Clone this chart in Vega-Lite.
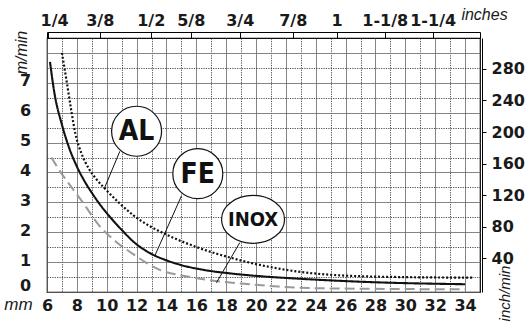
{
  "$schema": "https://vega.github.io/schema/vega-lite/v6.json",
  "autosize": {"type": "none"},
  "width": 433,
  "height": 254,
  "padding": {"left": 47, "top": 38, "right": 49, "bottom": 31},
  "background": "white",
  "config": {"view": {"stroke": "#000", "strokeWidth": 1.2}},
  "datasets": {
    "curves": [
      {"metal": "AL", "mm": 7.0, "v": 8.0}, {"metal": "AL", "mm": 7.3, "v": 7.1}, {"metal": "AL", "mm": 7.6, "v": 6.15}, {"metal": "AL", "mm": 7.9, "v": 5.3}, {"metal": "AL", "mm": 8.3, "v": 4.65}, {"metal": "AL", "mm": 8.8, "v": 4.13}, {"metal": "AL", "mm": 9.3, "v": 3.78}, {"metal": "AL", "mm": 9.8, "v": 3.5}, {"metal": "AL", "mm": 10.9, "v": 2.95}, {"metal": "AL", "mm": 11.8, "v": 2.56}, {"metal": "AL", "mm": 12.9, "v": 2.2}, {"metal": "AL", "mm": 14.0, "v": 1.92}, {"metal": "AL", "mm": 16.2, "v": 1.47}, {"metal": "AL", "mm": 18.5, "v": 1.12}, {"metal": "AL", "mm": 19.6, "v": 0.98}, {"metal": "AL", "mm": 21.9, "v": 0.75}, {"metal": "AL", "mm": 23.0, "v": 0.67}, {"metal": "AL", "mm": 25.2, "v": 0.57}, {"metal": "AL", "mm": 29.6, "v": 0.5}, {"metal": "AL", "mm": 34.6, "v": 0.48},
      {"metal": "FE", "mm": 6.2, "v": 7.7}, {"metal": "FE", "mm": 6.5, "v": 6.65}, {"metal": "FE", "mm": 7.0, "v": 5.6}, {"metal": "FE", "mm": 7.5, "v": 4.8}, {"metal": "FE", "mm": 8.0, "v": 4.2}, {"metal": "FE", "mm": 8.5, "v": 3.72}, {"metal": "FE", "mm": 9.0, "v": 3.32}, {"metal": "FE", "mm": 9.5, "v": 2.96}, {"metal": "FE", "mm": 10.0, "v": 2.64}, {"metal": "FE", "mm": 10.5, "v": 2.35}, {"metal": "FE", "mm": 11.0, "v": 2.08}, {"metal": "FE", "mm": 11.8, "v": 1.68}, {"metal": "FE", "mm": 12.9, "v": 1.3}, {"metal": "FE", "mm": 14.0, "v": 1.06}, {"metal": "FE", "mm": 15.0, "v": 0.9}, {"metal": "FE", "mm": 16.5, "v": 0.74}, {"metal": "FE", "mm": 18.5, "v": 0.61}, {"metal": "FE", "mm": 20.5, "v": 0.52}, {"metal": "FE", "mm": 22.7, "v": 0.45}, {"metal": "FE", "mm": 27.2, "v": 0.34}, {"metal": "FE", "mm": 34.0, "v": 0.26},
      {"metal": "INOX", "mm": 6.3, "v": 4.5}, {"metal": "INOX", "mm": 6.7, "v": 4.17}, {"metal": "INOX", "mm": 7.5, "v": 3.6}, {"metal": "INOX", "mm": 8.4, "v": 3.0}, {"metal": "INOX", "mm": 9.5, "v": 2.22}, {"metal": "INOX", "mm": 10.0, "v": 1.96}, {"metal": "INOX", "mm": 10.7, "v": 1.65}, {"metal": "INOX", "mm": 11.8, "v": 1.26}, {"metal": "INOX", "mm": 12.6, "v": 0.99}, {"metal": "INOX", "mm": 13.55, "v": 0.74}, {"metal": "INOX", "mm": 15.3, "v": 0.53}, {"metal": "INOX", "mm": 17.3, "v": 0.37}, {"metal": "INOX", "mm": 19.6, "v": 0.26}, {"metal": "INOX", "mm": 21.5, "v": 0.18}, {"metal": "INOX", "mm": 25.0, "v": 0.12}, {"metal": "INOX", "mm": 34.0, "v": 0.09}
    ],
    "labels": [
      {"name": "AL", "mm": 12.0, "v": 5.38},
      {"name": "FE", "mm": 16.1, "v": 3.96},
      {"name": "INOX", "mm": 19.8, "v": 2.43}
    ],
    "leaders": [
      {"name": "AL", "mm": 10.88, "v": 4.71, "mm2": 9.86, "v2": 3.49},
      {"name": "FE", "mm": 15.0, "v": 3.21, "mm2": 13.21, "v2": 1.2},
      {"name": "INOX", "mm": 18.91, "v": 1.65, "mm2": 17.35, "v2": 0.31}
    ]
  },
  "resolve": {"axis": {"x": "independent", "y": "independent"}},
  "layer": [
    {
      "data": {"name": "curves"},
      "mark": {"type": "point", "opacity": 0},
      "encoding": {
        "x": {
          "field": "mm", "type": "quantitative",
          "scale": {"domain": [6, 35], "nice": false, "zero": false},
          "axis": {
            "orient": "bottom",
            "values": [6,7,8,9,10,11,12,13,14,15,16,17,18,19,20,21,22,23,24,25,26,27,28,29,30,31,32,33,34,35],
            "grid": true,
            "gridColor": {"condition": {"test": "datum.value % 2 == 1", "value": "#222"}, "value": "#666"},
            "gridDash": {"condition": {"test": "datum.value % 2 == 1", "value": [1.2, 1.2]}, "value": []},
            "gridWidth": 0.8,
            "ticks": false, "tickSize": 0, "domain": false,
            "labelExpr": "datum.value % 2 == 0 && datum.value <= 34 ? datum.value : ''",
            "labelFont": "DejaVu Sans", "labelFontWeight": "bold", "labelFontSize": 16, "labelColor": "#1a1a1a",
            "labelPadding": 5, "labelFlush": false, "labelOverlap": false, "labelBound": false,
            "title": "mm", "titleFont": "Liberation Sans", "titleFontStyle": "italic", "titleFontWeight": "normal", "titleFontSize": 17, "titleColor": "#1a1a1a",
            "titleX": -29, "titleY": 12.5, "titleAlign": "center", "titleBaseline": "middle", "titleAngle": 0
          }
        },
        "y": {
          "field": "v", "type": "quantitative",
          "scale": {"domain": [0, 8.5], "nice": false, "zero": false},
          "axis": {
            "orient": "left",
            "values": [0,0.5,1,1.5,2,2.5,3,3.5,4,4.5,5,5.5,6,6.5,7,7.5,8,8.5],
            "grid": true,
            "gridColor": {"condition": {"test": "datum.value % 1 != 0", "value": "#222"}, "value": "#666"},
            "gridDash": {"condition": {"test": "datum.value % 1 != 0", "value": [1.2, 1.2]}, "value": []},
            "gridWidth": 0.8,
            "ticks": false, "tickSize": 0, "domain": false,
            "labelExpr": "datum.value % 1 == 0 && datum.value <= 7 ? datum.value : ''",
            "labelFont": "DejaVu Sans", "labelFontWeight": "bold", "labelFontSize": 16, "labelColor": "#1a1a1a",
            "labelAlign": "center", "labelBaseline": "middle", "labelPadding": 22,
            "labelOffset": {"condition": {"test": "datum.value == 0", "value": -6.5}, "value": -2},
            "labelFlush": false, "labelOverlap": false, "labelBound": false,
            "title": "m/min", "titleFont": "Liberation Sans", "titleFontStyle": "italic", "titleFontWeight": "normal", "titleFontSize": 16, "titleColor": "#1a1a1a",
            "titleX": -26, "titleY": 14, "titleAlign": "center", "titleBaseline": "middle", "titleAngle": 270
          }
        }
      }
    },
    {
      "data": {"name": "curves"},
      "mark": {"type": "point", "opacity": 0},
      "encoding": {
        "x": {
          "field": "mm", "type": "quantitative",
          "axis": {
            "orient": "top", "offset": 6,
            "values": [6, 6.07, 9.53, 12.95, 15.63, 18.91, 22.46, 25.4, 28.62, 31.83, 35],
            "grid": false, "domain": true, "domainColor": "#000", "domainWidth": 1,
            "ticks": true, "tickSize": -6, "tickColor": "#000", "tickWidth": 1,
            "labelExpr": "datum.value < 6.05 ? '' : datum.value < 7 ? '1/4' : datum.value < 10 ? '3/8' : datum.value < 13 ? '1/2' : datum.value < 16 ? '5/8' : datum.value < 19 ? '3/4' : datum.value < 23 ? '7/8' : datum.value < 26 ? '1' : datum.value < 29 ? '1-1/8' : datum.value < 32 ? '1-1/4' : ''",
            "labelOffset": {"condition": {"test": "datum.value < 7", "value": 6}, "value": 0},
            "labelFont": "DejaVu Sans", "labelFontWeight": "bold", "labelFontSize": 16, "labelColor": "#1a1a1a",
            "labelBaseline": "alphabetic", "labelPadding": 13, "labelFlush": false, "labelOverlap": false, "labelBound": false,
            "title": "inches", "titleFont": "Liberation Sans", "titleFontStyle": "italic", "titleFontWeight": "normal", "titleFontSize": 16, "titleColor": "#1a1a1a",
            "titleX": 437, "titleY": -13, "titleAlign": "center", "titleBaseline": "alphabetic", "titleAngle": 0
          }
        },
        "y": {
          "field": "v", "type": "quantitative",
          "axis": {
            "orient": "right", "offset": 2,
            "values": [1.126, 2.183, 3.24, 4.296, 5.353, 6.41, 7.467],
            "grid": false, "domain": true, "domainColor": "#000", "domainWidth": 1,
            "ticks": true, "tickSize": 4, "tickColor": "#000", "tickWidth": 1,
            "labelExpr": "round(datum.value / 1.0568) * 40",
            "labelFont": "DejaVu Sans", "labelFontWeight": "bold", "labelFontSize": 16, "labelColor": "#1a1a1a",
            "labelAlign": "left", "labelBaseline": "middle", "labelPadding": 5,
            "labelFlush": false, "labelOverlap": false, "labelBound": false,
            "title": "inch/min", "titleFont": "Liberation Sans", "titleFontStyle": "italic", "titleFontWeight": "normal", "titleFontSize": 15, "titleColor": "#1a1a1a",
            "titleX": 22, "titleY": 255, "titleAlign": "center", "titleBaseline": "middle", "titleAngle": 270
          }
        }
      }
    },
    {
      "data": {"name": "curves"},
      "mark": {"type": "line", "interpolate": "monotone"},
      "encoding": {
        "x": {"field": "mm", "type": "quantitative", "axis": null},
        "y": {"field": "v", "type": "quantitative", "axis": null},
        "detail": {"field": "metal"},
        "color": {"field": "metal", "type": "nominal", "scale": {"domain": ["AL", "FE", "INOX"], "range": ["#111111", "#111111", "#9a9a9a"]}, "legend": null},
        "strokeDash": {"field": "metal", "type": "nominal", "scale": {"domain": ["AL", "FE", "INOX"], "range": [[2, 2], [1, 0], [10, 5]]}, "legend": null},
        "strokeWidth": {"field": "metal", "type": "nominal", "scale": {"domain": ["AL", "FE", "INOX"], "range": [2.2, 2, 2.4]}, "legend": null}
      }
    },
    {
      "data": {"name": "leaders"},
      "mark": {"type": "rule", "color": "#111", "strokeWidth": 1},
      "encoding": {
        "x": {"field": "mm", "type": "quantitative", "axis": null},
        "y": {"field": "v", "type": "quantitative", "axis": null},
        "x2": {"field": "mm2"},
        "y2": {"field": "v2"}
      }
    },
    {
      "data": {"name": "labels"},
      "transform": [{"filter": "datum.name != 'INOX'"}],
      "mark": {"type": "point", "shape": "circle", "size": 2500, "filled": true, "fill": "white", "stroke": "#111", "strokeWidth": 1.2, "opacity": 1},
      "encoding": {
        "x": {"field": "mm", "type": "quantitative", "axis": null},
        "y": {"field": "v", "type": "quantitative", "axis": null}
      }
    },
    {
      "data": {"name": "labels"},
      "transform": [{"filter": "datum.name == 'INOX'"}],
      "mark": {"type": "point", "shape": "M 1 0 C 1 0.4197 0.5523 0.76 0 0.76 C -0.5523 0.76 -1 0.4197 -1 0 C -1 -0.4197 -0.5523 -0.76 0 -0.76 C 0.5523 -0.76 1 -0.4197 1 0 Z", "size": 3969, "filled": true, "fill": "white", "stroke": "#111", "strokeWidth": 1.2, "opacity": 1},
      "encoding": {
        "x": {"field": "mm", "type": "quantitative", "axis": null},
        "y": {"field": "v", "type": "quantitative", "axis": null}
      }
    },
    {
      "data": {"name": "labels"},
      "mark": {"type": "text", "font": "'DejaVu Sans Condensed', 'Liberation Sans', sans-serif", "fontWeight": "bold", "color": "#111", "baseline": "middle", "align": "center", "dy": 1},
      "encoding": {
        "x": {"field": "mm", "type": "quantitative", "axis": null},
        "y": {"field": "v", "type": "quantitative", "axis": null},
        "text": {"field": "name"},
        "size": {"condition": {"test": "datum.name == 'INOX'", "value": 20}, "value": 28}
      }
    }
  ]
}
